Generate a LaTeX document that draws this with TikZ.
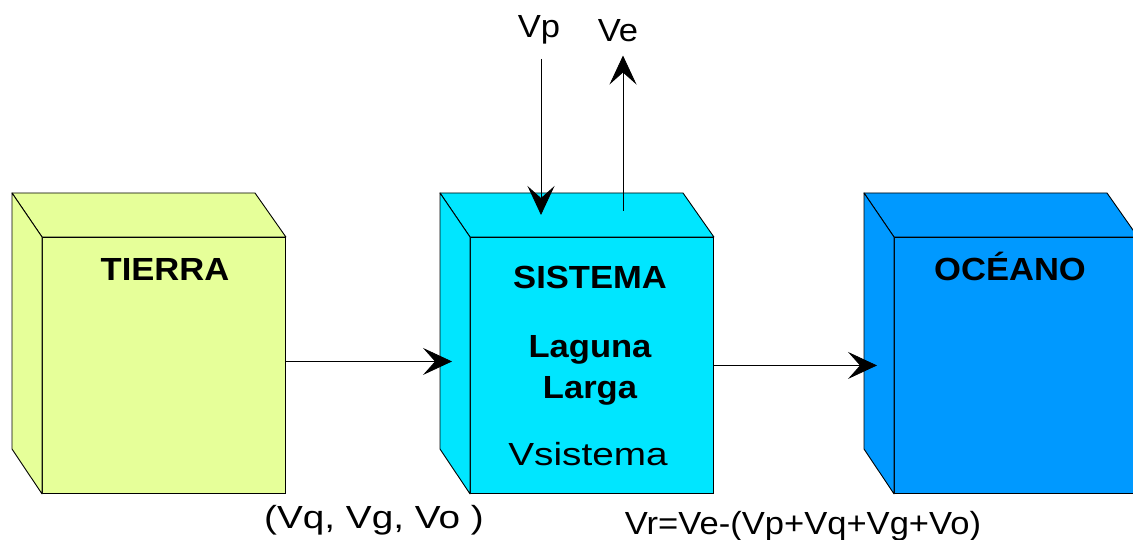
\documentclass[tikz,border=0pt]{standalone}
\usepackage{fontspec}
\setmainfont{Liberation Sans}[FakeStretch=1.08]
\newfontfamily\anchafont{Liberation Sans}[FakeStretch=1.21]
\usetikzlibrary{arrows.meta}
\definecolor{tierra}{RGB}{230,255,153}
\definecolor{sistema}{RGB}{0,230,255}
\definecolor{oceano}{RGB}{0,153,255}
\tikzset{
  caja/.style={draw, line width=0.9pt, minimum width=243pt, minimum height=256pt, inner sep=0pt, anchor=north west},
  cara/.style={draw, line width=0.9pt, line join=round},
  texto/.style={inner sep=0pt, anchor=base, font=\fontsize{32}{36}\selectfont},
  ancho/.style={texto, font=\fontsize{32}{36}\selectfont\anchafont},
  titulo/.style={texto, font=\fontsize{32}{36}\selectfont\bfseries},
  flecha/.style={draw, line width=0.8pt, -{Stealth[length=29pt, width=27pt, inset=12pt]}}
}
\begin{document}
\begin{tikzpicture}[x=1pt, y=-1pt]
\useasboundingbox (0,0) rectangle (1133,540);
% cajas
\node (tierra) [caja, fill=tierra] at (42,237) {};
\node (sistema) [caja, fill=sistema] at (470,237) {};
\node (oceano) [caja, fill=oceano] at (894,237) {};
\foreach \c in {tierra,sistema,oceano} {
  \draw [cara, fill=\c] (\c.north west) -- ++(-30,-44) -- ++(243,0) -- (\c.north east) -- cycle;
  \draw [cara, fill=\c] (\c.north west) -- ++(-30,-44) -- ++(0,256) -- (\c.south west) -- cycle;
}
% textos
\node (tierra-t) [titulo] at (165,280) {TIERRA};
\node (sistema-t) [titulo] at (590,289) {SISTEMA};
\node (laguna) [titulo] at (590,357) {Laguna};
\node (larga) [titulo] at (590,398) {Larga};
\node (vsistema) [ancho] at (588,465) {Vsistema};
\node (oceano-t) [titulo] at (1010,280) {OCÉANO};
\node (vp) [texto] at (539,38) {Vp};
\node (ve) [texto] at (618,42) {Ve};
\node (entradas) [ancho] at (374,528) {(Vq, Vg, Vo )};
\node (balance) [texto] at (803,534) {Vr=Ve-(Vp+Vq+Vg+Vo)};
% flujos
\coordinate (lluvia) at (541,215);
\coordinate (evap) at (623,211);
\draw [flecha, shorten >=18pt] ([yshift=4pt]tierra.east) -- ([yshift=4pt]sistema.west);
\draw [flecha, shorten >=17pt] (sistema.east) -- (oceano.west);
\draw [flecha, shorten <=14pt] (vp.south -| lluvia) -- (lluvia);
\draw [flecha, shorten >=13pt] (evap) -- (evap |- ve.south);
\end{tikzpicture}
\end{document}
